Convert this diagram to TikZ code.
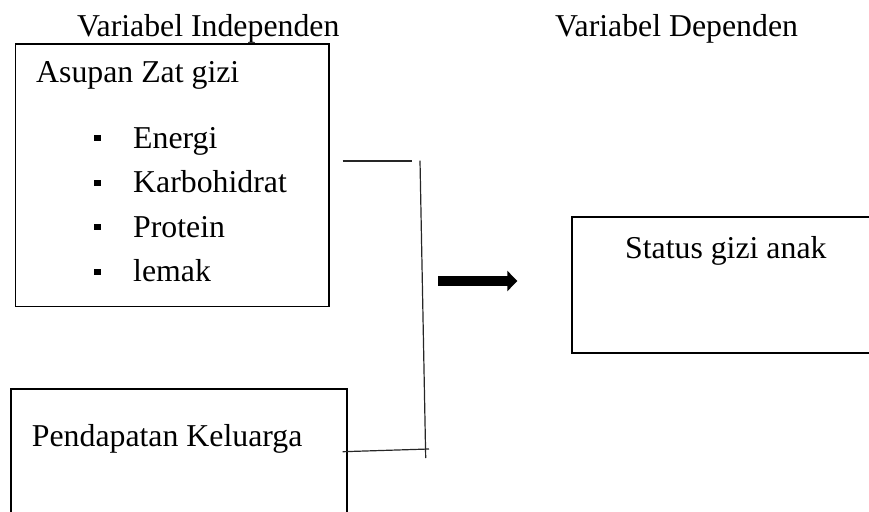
\documentclass[tikz,border=0pt]{standalone}
\usepackage{fontspec}
\setmainfont{Liberation Serif}
\usetikzlibrary{arrows.meta}
\begin{document}
\begin{tikzpicture}[x=1pt,y=-1pt,
  lbl/.style={inner sep=0pt,anchor=base west,font=\fontsize{31.8}{36}\selectfont},
  thinbox/.style={draw,line width=1.4pt},
  thickbox/.style={draw,line width=2.2pt},
  conn/.style={line width=1.2pt,draw=black!85},
  bul/.style={fill=black,inner sep=0pt,minimum width=6.5pt,minimum height=6pt}]
\useasboundingbox (0,0) rectangle (869,511);
% titles
\node[lbl] (t1) at (77,36.5) {Variabel Independen};
\node[lbl] (t2) at (555,36.5) {Variabel Dependen};
% box 1
\draw[thinbox] (15.7,44) rectangle (329,306.7);
\node[lbl] (asupan) at (36,82) {Asupan Zat gizi};
\node[bul] (b1) at (97.3,138) {};
\node[lbl] (energi) at (133,148) {Energi};
\node[bul] (b2) at (97.3,182.5) {};
\node[lbl] (karbo) at (133,192.5) {Karbohidrat};
\node[bul] (b3) at (97.3,227) {};
\node[lbl] (protein) at (133,237) {Protein};
\node[bul] (b4) at (97.3,271.5) {};
\node[lbl] (lemak) at (133,281.5) {lemak};
% box pendapatan
\draw[thickbox] (11,520) -- (11,389) -- (346.7,389) -- (346.7,520);
\node[lbl] (pend) at (31.7,446.7) {Pendapatan Keluarga};
% box status
\draw[thickbox] (880,217.3) -- (571.7,217.3) -- (571.7,353.3) -- (880,353.3);
\node[lbl,anchor=base] (status) at (725.8,258) {Status gizi anak};
% connectors
\coordinate (c1) at (342.7,161);
\coordinate (c2) at (411.7,161);
\coordinate (v1) at (420,160.7);
\coordinate (v2) at (425.7,458);
\coordinate (c3) at (342.7,451.7);
\coordinate (c4) at (429,449);
\draw[conn] (c1) -- (c2);
\draw[conn] (v1) -- (v2);
\draw[conn] (c3) -- (c4);
% arrow
\coordinate (a1) at (438.3,281);
\coordinate (a2) at (517.3,281);
\draw[line width=10.5pt,-{Triangle[length=10pt,width=20pt]}] (a1) -- (a2);
\end{tikzpicture}
\end{document}
